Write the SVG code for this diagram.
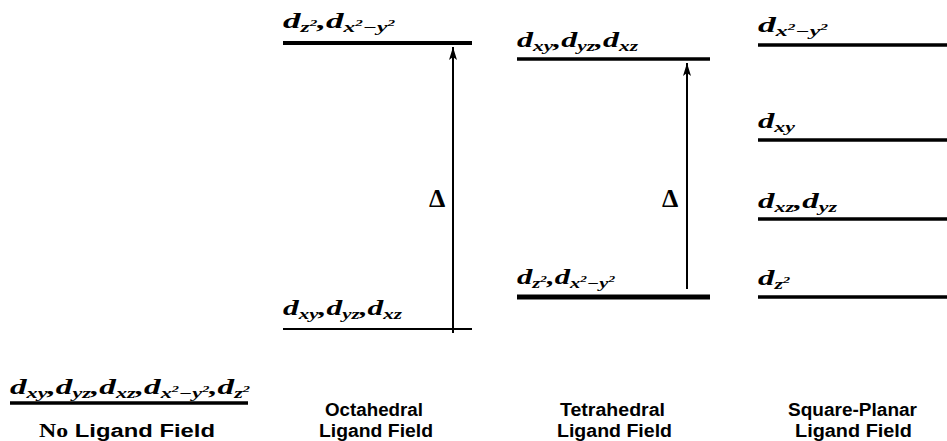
<svg xmlns="http://www.w3.org/2000/svg" width="947" height="441" viewBox="0 0 947 441">
<defs>
<style>
.m{font-family:"Liberation Serif",serif;font-weight:bold;font-style:italic;font-size:21px;fill:#000}
.s{font-size:14px}
.p{font-size:9px}
.lvl{stroke:#000;fill:none}
.lab{font-family:"Liberation Sans",Arial,sans-serif;font-weight:bold;font-size:18px;fill:#000}
.dl{font-family:"Liberation Serif",serif;font-weight:bold;font-size:26px;fill:#000}
.conn{stroke:#000;stroke-width:2;fill:none}
</style>
<marker id="ah" markerUnits="userSpaceOnUse" markerWidth="14" markerHeight="10" refX="13" refY="4" orient="auto">
<path d="M0,0 L13,4 L0,8 L3,4 Z" fill="#000"/>
</marker>
</defs>
<rect width="947" height="441" fill="#fff"/>

<g id="no-field">
<line class="lvl" x1="10" y1="403" x2="248" y2="403" stroke-width="3.5"/>
<text class="m" x="10" y="394" textLength="240" lengthAdjust="spacingAndGlyphs">d<tspan class="s" dy="4">xy</tspan><tspan dy="-4">,d</tspan><tspan class="s" dy="4">yz</tspan><tspan dy="-4">,d</tspan><tspan class="s" dy="4">xz</tspan><tspan dy="-4">,d</tspan><tspan class="s" dy="4">x</tspan><tspan class="p" dy="-6">2</tspan><tspan class="s" dy="6">−y</tspan><tspan class="p" dy="-6">2</tspan><tspan dy="2">,d</tspan><tspan class="s" dy="4">z</tspan><tspan class="p" dy="-6">2</tspan></text>
<text class="lab" x="39" y="437" textLength="176" lengthAdjust="spacingAndGlyphs"><tspan font-family="Liberation Serif,serif">No</tspan> Ligand Field</text>
</g>

<g id="oct-eg">
<line class="lvl" x1="283" y1="43" x2="472" y2="43" stroke-width="4"/>
<text class="m" x="283" y="28" textLength="112" lengthAdjust="spacingAndGlyphs">d<tspan class="s" dy="4">z</tspan><tspan class="p" dy="-6">2</tspan><tspan dy="2">,d</tspan><tspan class="s" dy="4">x</tspan><tspan class="p" dy="-6">2</tspan><tspan class="s" dy="6">−y</tspan><tspan class="p" dy="-6">2</tspan></text>
</g>
<g id="oct-t2g">
<line class="lvl" x1="283" y1="329" x2="472" y2="329" stroke-width="2"/>
<text class="m" x="283" y="315" textLength="119" lengthAdjust="spacingAndGlyphs">d<tspan class="s" dy="4">xy</tspan><tspan dy="-4">,d</tspan><tspan class="s" dy="4">yz</tspan><tspan dy="-4">,d</tspan><tspan class="s" dy="4">xz</tspan></text>
</g>
<g id="oct-label">
<text class="lab" x="325" y="416" textLength="98" lengthAdjust="spacingAndGlyphs">Octahedral</text>
<text class="lab" x="319" y="437" textLength="114" lengthAdjust="spacingAndGlyphs">Ligand Field</text>
<text class="dl" x="429" y="207">Δ</text>
</g>

<g id="tet-t2">
<line class="lvl" x1="517" y1="59" x2="710" y2="59" stroke-width="3.5"/>
<text class="m" x="517" y="47" textLength="121" lengthAdjust="spacingAndGlyphs">d<tspan class="s" dy="4">xy</tspan><tspan dy="-4">,d</tspan><tspan class="s" dy="4">yz</tspan><tspan dy="-4">,d</tspan><tspan class="s" dy="4">xz</tspan></text>
</g>
<g id="tet-e">
<line class="lvl" x1="517" y1="297" x2="710" y2="297" stroke-width="5"/>
<text class="m" x="517" y="284" textLength="98" lengthAdjust="spacingAndGlyphs">d<tspan class="s" dy="4">z</tspan><tspan class="p" dy="-6">2</tspan><tspan dy="2">,d</tspan><tspan class="s" dy="4">x</tspan><tspan class="p" dy="-6">2</tspan><tspan class="s" dy="6">−y</tspan><tspan class="p" dy="-6">2</tspan></text>
</g>
<g id="tet-label">
<text class="lab" x="560" y="416" textLength="105" lengthAdjust="spacingAndGlyphs">Tetrahedral</text>
<text class="lab" x="557" y="437" textLength="115" lengthAdjust="spacingAndGlyphs">Ligand Field</text>
<text class="dl" x="662" y="207">Δ</text>
</g>

<g id="sp-x2y2">
<line class="lvl" x1="758" y1="45" x2="947" y2="45" stroke-width="3.5"/>
<text class="m" x="758" y="32" textLength="70" lengthAdjust="spacingAndGlyphs">d<tspan class="s" dy="4">x</tspan><tspan class="p" dy="-6">2</tspan><tspan class="s" dy="6">−y</tspan><tspan class="p" dy="-6">2</tspan></text>
</g>
<g id="sp-xy">
<line class="lvl" x1="758" y1="140" x2="947" y2="140" stroke-width="3.5"/>
<text class="m" x="758" y="128" textLength="37" lengthAdjust="spacingAndGlyphs">d<tspan class="s" dy="4">xy</tspan></text>
</g>
<g id="sp-xzyz">
<line class="lvl" x1="758" y1="219" x2="947" y2="219" stroke-width="3.5"/>
<text class="m" x="758" y="208" textLength="79" lengthAdjust="spacingAndGlyphs">d<tspan class="s" dy="4">xz</tspan><tspan dy="-4">,d</tspan><tspan class="s" dy="4">yz</tspan></text>
</g>
<g id="sp-z2">
<line class="lvl" x1="758" y1="297" x2="947" y2="297" stroke-width="3.5"/>
<text class="m" x="758" y="285" textLength="32" lengthAdjust="spacingAndGlyphs">d<tspan class="s" dy="4">z</tspan><tspan class="p" dy="-6">2</tspan></text>
</g>
<g id="sp-label">
<text class="lab" x="788" y="416" textLength="129" lengthAdjust="spacingAndGlyphs">Square-Planar</text>
<text class="lab" x="795" y="437" textLength="117" lengthAdjust="spacingAndGlyphs">Ligand Field</text>
</g>

<g id="connectors">
<line class="conn" x1="453" y1="333" x2="453" y2="47" marker-end="url(#ah)"/>
<line class="conn" x1="687" y1="289" x2="687" y2="63" marker-end="url(#ah)"/>
</g>
</svg>
